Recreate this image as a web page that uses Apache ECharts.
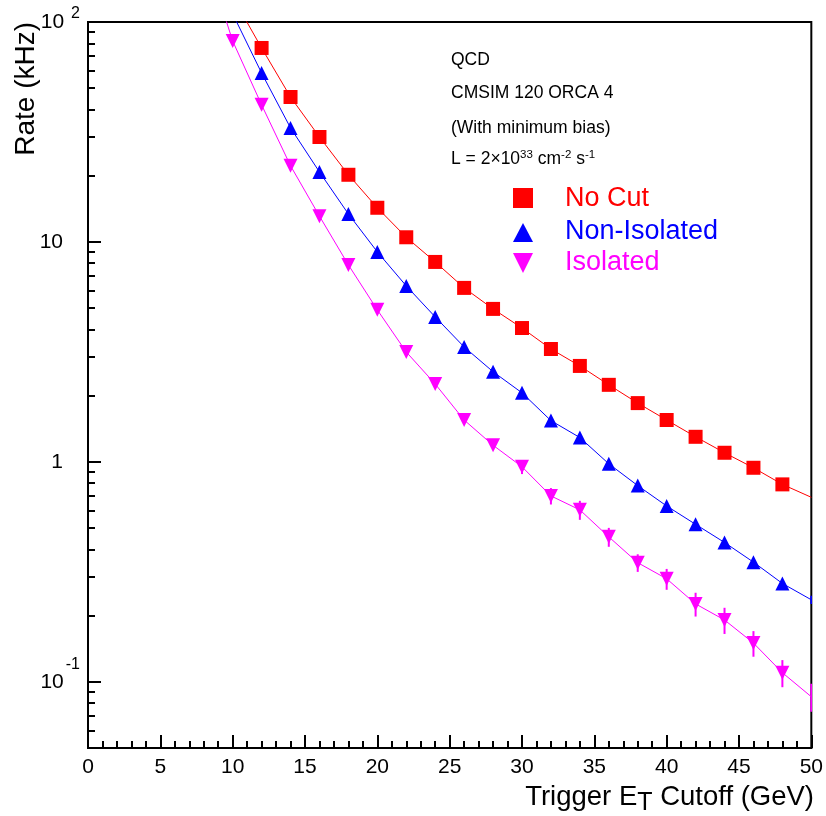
<!DOCTYPE html>
<html><head><meta charset="utf-8">
<script src="https://cdn.jsdelivr.net/npm/echarts@6/dist/echarts.min.js"></script>
<style>html,body{margin:0;padding:0;background:#fff}#c{width:826px;height:816px}</style>
</head><body><div id="c"></div>
<script>
// ---- data ----
const etCutoff = [10,12,14,16,18,20,22,24,26,28,30,32,34,36,38,40,42,44,46,48,50];
const noCut    = [130,76.2,45.6,30.0,20.2,14.3,10.5,8.11,6.18,4.96,4.06,3.26,2.73,2.24,1.85,1.55,1.30,1.10,0.94,0.79,0.69];
const nonIso   = [109,58.6,33.0,20.8,13.4,9.01,6.31,4.56,3.33,2.57,2.06,1.54,1.29,0.98,0.78,0.63,0.52,0.43,0.35,0.28,0.236];
const nonIsoErr= [0,0,0,0,0,0,0,0,0,0,0,0,0,0,0,0,0,0,0,0.008,0.01];
const isoEt    = [8,10,12,14,16,18,20,22,24,26,28,30,32,34,36,38,40,42,44,46,48,50];
const iso      = [211,82,42,22.2,13.1,7.86,4.91,3.16,2.26,1.55,1.19,0.95,0.70,0.605,0.456,0.348,0.294,0.226,0.191,0.150,0.110,0.0855];
const isoErr   = [0,0,0,0,0,0,0,0,0,0,0.05,0.07,0.06,0.06,0.045,0.032,0.032,0.028,0.026,0.020,0.0155,0.0125];
const xTicks   = [0,5,10,15,20,25,30,35,40,45,50];
const yMajor   = [0.1,1,10,100];
const yMinor   = [0.05,0.06,0.07,0.08,0.09,0.2,0.3,0.4,0.5,0.6,0.7,0.8,0.9,2,3,4,5,6,7,8,9,20,30,40,50,60,70,80,90];
const seriesNames = ['No Cut','Non-Isolated','Isolated'];
const colors = ['#ff0000','#0000ff','#ff00ff'];
const infoLines = ['QCD','CMSIM 120 ORCA 4','(With minimum bias)'];

const FF = '"Liberation Sans", Arial, Helvetica, sans-serif';

function pts(xs, ys){
  return xs.map((x,i)=> x===50 ? {value:[x,ys[i]], symbol:'none'} : [x,ys[i]]);
}
function errData(xs, ys, es){ return xs.map((x,i)=>[x,ys[i],es[i]]); }
function errSeries(data, color){
  return {
    type:'custom', xAxisIndex:0, yAxisIndex:0, clip:true, z:1, silent:true,
    encode:{x:0,y:1},
    data:data,
    renderItem:function(params, api){
      const x=api.value(0), y=api.value(1), e=api.value(2);
      if(!e) return null;
      const p1=api.coord([x,y-e]), p2=api.coord([x,y+e]);
      return {type:'line', shape:{x1:p1[0],y1:p1[1],x2:p2[0],y2:p2[1]}, style:{stroke:color,lineWidth:2}};
    }
  };
}

const chart = echarts.init(document.getElementById('c'), null, {renderer:'canvas'});
const option = {
  animation:false,
  backgroundColor:'#fff',
  grid:{left:88,right:14,top:22,bottom:68,show:true,borderColor:'#000',borderWidth:2,backgroundColor:'rgba(0,0,0,0)'},
  xAxis:{
    type:'value', min:0, max:50, interval:5,
    axisLine:{show:true,lineStyle:{color:'#000',width:2}},
    axisTick:{show:true,inside:true,length:13,lineStyle:{color:'#000',width:2}},
    minorTick:{show:true,splitNumber:5,length:7,lineStyle:{color:'#000',width:2}},
    splitLine:{show:false},
    axisLabel:{margin:9,fontSize:21,fontFamily:FF,color:'#000',customValues:xTicks}
  },
  yAxis:[{
    type:'log', min:0.05, max:100, logBase:10,
    axisLine:{show:true,lineStyle:{color:'#000',width:2}},
    axisTick:{show:true,inside:true,length:13,customValues:yMajor,lineStyle:{color:'#000',width:2}},
    splitLine:{show:false},
    axisLabel:{
      margin:8, customValues:yMajor, color:'#000', fontFamily:FF,
      formatter:function(v){
        if(Math.abs(v-100)<1e-6) return '{b|10}{e2|2}';
        if(Math.abs(v-0.1)<1e-9) return '{b|10}{e1|-1}';
        if(Math.abs(v-10)<1e-6) return '{p|10}';
        return '{p|1}';
      },
      rich:{
        b:{fontSize:21,fontFamily:FF,color:'#000',verticalAlign:'middle'},
        p:{fontSize:21,fontFamily:FF,color:'#000',verticalAlign:'middle',padding:[0,17,0,0]},
        e2:{fontSize:16,fontFamily:FF,color:'#000',verticalAlign:'middle',padding:[0,0,16,7]},
        e1:{fontSize:16,fontFamily:FF,color:'#000',verticalAlign:'middle',padding:[0,0,34,2]}
      }
    }
  },{
    type:'log', min:0.05, max:100, logBase:10, position:'left', offset:0,
    axisLine:{show:false},
    axisTick:{show:true,inside:true,length:7,customValues:yMinor,lineStyle:{color:'#000',width:2}},
    axisLabel:{show:false}, splitLine:{show:false}
  }],
  series:[
    errSeries(errData(etCutoff,nonIso,nonIsoErr), colors[1]),
    errSeries(errData(isoEt,iso,isoErr), colors[2]),
    {name:seriesNames[0],type:'line',clip:true,z:3,data:pts(etCutoff,noCut),symbol:'rect',symbolSize:14,
     lineStyle:{color:colors[0],width:1},itemStyle:{color:colors[0]}},
    {name:seriesNames[1],type:'line',clip:true,z:3,data:pts(etCutoff,nonIso),symbol:'triangle',symbolSize:14,
     lineStyle:{color:colors[1],width:1},itemStyle:{color:colors[1]}},
    {name:seriesNames[2],type:'line',clip:true,z:3,data:pts(isoEt,iso),symbol:'triangle',symbolRotate:180,symbolSize:14,
     lineStyle:{color:colors[2],width:1},itemStyle:{color:colors[2]}}
  ],
  graphic:[
    {type:'text',x:26,y:22,rotation:Math.PI/2,style:{text:'Rate (kHz)',font:'28px '+FF,fill:'#000',align:'right',verticalAlign:'middle'}},
    {type:'text',x:814,y:797,style:{text:'Trigger E{sub|T} Cutoff (GeV)',font:'27.5px '+FF,fill:'#000',align:'right',verticalAlign:'middle',
      rich:{sub:{fontSize:25,fontFamily:FF,fill:'#000',padding:[13,0,0,0],verticalAlign:'middle'}}}},
    {type:'text',x:451,y:60,style:{text:infoLines[0],font:'17.5px '+FF,fill:'#000',verticalAlign:'middle'}},
    {type:'text',x:451,y:93,style:{text:infoLines[1],font:'17.5px '+FF,fill:'#000',verticalAlign:'middle'}},
    {type:'text',x:451,y:128,style:{text:infoLines[2],font:'17.5px '+FF,fill:'#000',verticalAlign:'middle'}},
    {type:'text',x:451,y:159,style:{text:'{n|L = 2×10}{s|33}{n| cm}{s|-2}{n| s}{s|-1}',font:'17.5px '+FF,fill:'#000',verticalAlign:'middle',
      rich:{n:{fontSize:17.5,fontFamily:FF,fill:'#000',verticalAlign:'middle'},
            s:{fontSize:11.5,fontFamily:FF,fill:'#000',verticalAlign:'middle',padding:[0,0,8,0]}}}},
    {type:'rect',shape:{x:513,y:188,width:20,height:20},style:{fill:colors[0]}},
    {type:'polygon',shape:{points:[[523,223],[533,242],[513,242]]},style:{fill:colors[1]}},
    {type:'polygon',shape:{points:[[513,253],[533,253],[523,273]]},style:{fill:colors[2]}},
    {type:'text',x:565,y:199,style:{text:seriesNames[0],font:'27px '+FF,fill:colors[0],verticalAlign:'middle'}},
    {type:'text',x:565,y:232,style:{text:seriesNames[1],font:'27px '+FF,fill:colors[1],verticalAlign:'middle'}},
    {type:'text',x:565,y:263,style:{text:seriesNames[2],font:'27px '+FF,fill:colors[2],verticalAlign:'middle'}}
  ]
};
chart.setOption(option);
</script></body></html>
